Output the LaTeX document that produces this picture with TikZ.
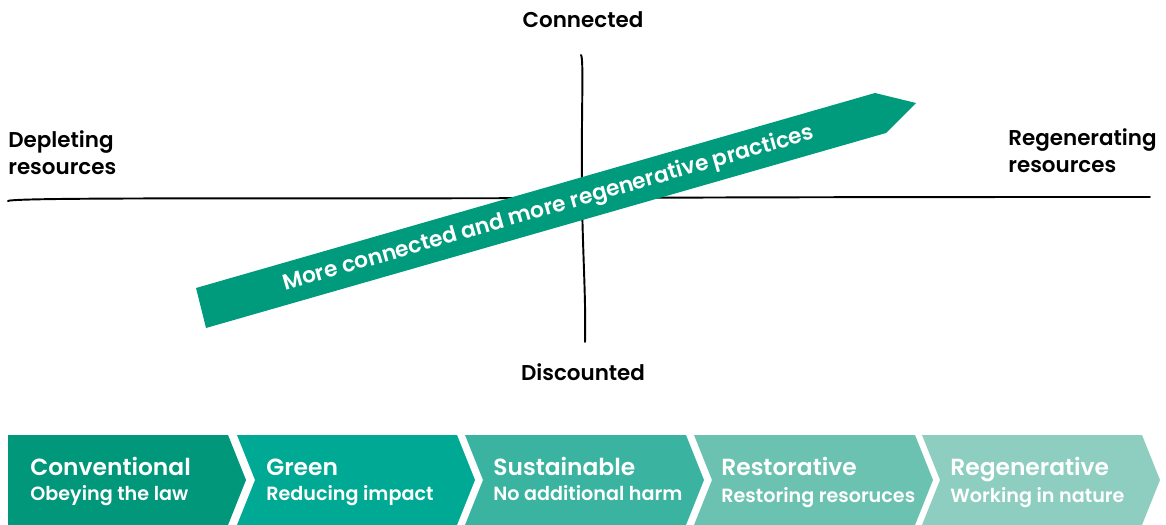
\documentclass[tikz,border=0pt]{standalone}
\usepackage{fontspec}
\setmainfont{Poppins}[BoldFont=Poppins SemiBold]
\usetikzlibrary{positioning}
\definecolor{teal1}{HTML}{00977A}
\definecolor{teal2}{HTML}{00A993}
\definecolor{teal3}{HTML}{3AB4A1}
\definecolor{teal4}{HTML}{6CC2B1}
\definecolor{teal5}{HTML}{8ECEC0}
\definecolor{arrowgreen}{HTML}{009B7C}
\tikzset{
axislabel/.style={
	  font=\bfseries\fontsize{12.2}{15.5}\selectfont, inner sep=0pt, align=left},
steptitle/.style={
	  text=white, font=\bfseries\fontsize{13.3}{14}\selectfont, inner sep=0pt, anchor=base west},
stepsub/.style={
	  text=white, font=\bfseries\fontsize{10.9}{11}\selectfont, inner sep=0pt, anchor=base west},
sketchline/.style={
	  line width=1.1pt, line cap=round}
}

\begin{document}
\begin{tikzpicture}[x=0.02cm, y=-0.02cm]
	\useasboundingbox (0,0) rectangle (1166,524);
	% axes
	\coordinate (west) at (8,201);
	\coordinate (east) at (1150,197);
	\coordinate (north) at (581,55);
	\coordinate (south) at (585,342);
	\draw[sketchline] (west) .. controls (12,197) and (300,199) .. (580,198)
		.. controls (800,197) and (1000,197) .. (east);
	\draw[sketchline] (north) .. controls (584,58) and (581,120) .. (582,200)
		.. controls (583,260) and (586,300) .. (south);
	% axis labels
	\node[axislabel] (connected) at (583,20) {Connected};
	\node[axislabel] (discounted) at (583,372) {Discounted};
	\node[axislabel, anchor=west] (depleting) at (8,153) {Depleting\\resources};
	\node[axislabel, anchor=west] (regenerating) at (1008,151) {Regenerating\\resources};
	% big arrow
	\fill[arrowgreen] (196,288) -- (875,93) -- (916,103) -- (886,133) -- (206,328) -- cycle;
	\node[text=white, font=\bfseries\fontsize{12.4}{14}\selectfont, rotate=16] (practices) at (549,209)
		{More connected and more regenerative practices};
	% stages
	\fill[teal1] (8,435) -- (228,435) -- (246,480) -- (228,525) -- (8,525) -- cycle;
	\fill[teal2] (237,435) -- (457,435) -- (475,480) -- (457,525) -- (237,525) -- (255,480) -- cycle;
	\fill[teal3] (465,435) -- (686,435) -- (704,480) -- (686,525) -- (465,525) -- (483,480) -- cycle;
	\fill[teal4] (694,435) -- (915,435) -- (933,480) -- (915,525) -- (694,525) -- (712,480) -- cycle;
	\fill[teal5] (922,435) -- (1142,435) -- (1160,480) -- (1142,525) -- (922,525) -- (940,480) -- cycle;
	\node[steptitle] (conventional) at (30,475) {Conventional};
	\node[stepsub] (obeying) at (30,500) {Obeying the law};
	\node[steptitle] (green) at (266,475) {Green};
	\node[stepsub] (reducing) at (266,500) {Reducing impact};
	\node[steptitle] (sustainable) at (493,475) {Sustainable};
	\node[stepsub] (noharm) at (493,500) {No additional harm};
	\node[steptitle] (restorative) at (721,475) {Restorative};
	\node[stepsub] (restoring) at (721,502) {Restoring resoruces};
	\node[steptitle] (regenerative) at (950,475) {Regenerative};
	\node[stepsub] (working) at (950,502) {Working in nature};
\end{tikzpicture}
\end{document}
